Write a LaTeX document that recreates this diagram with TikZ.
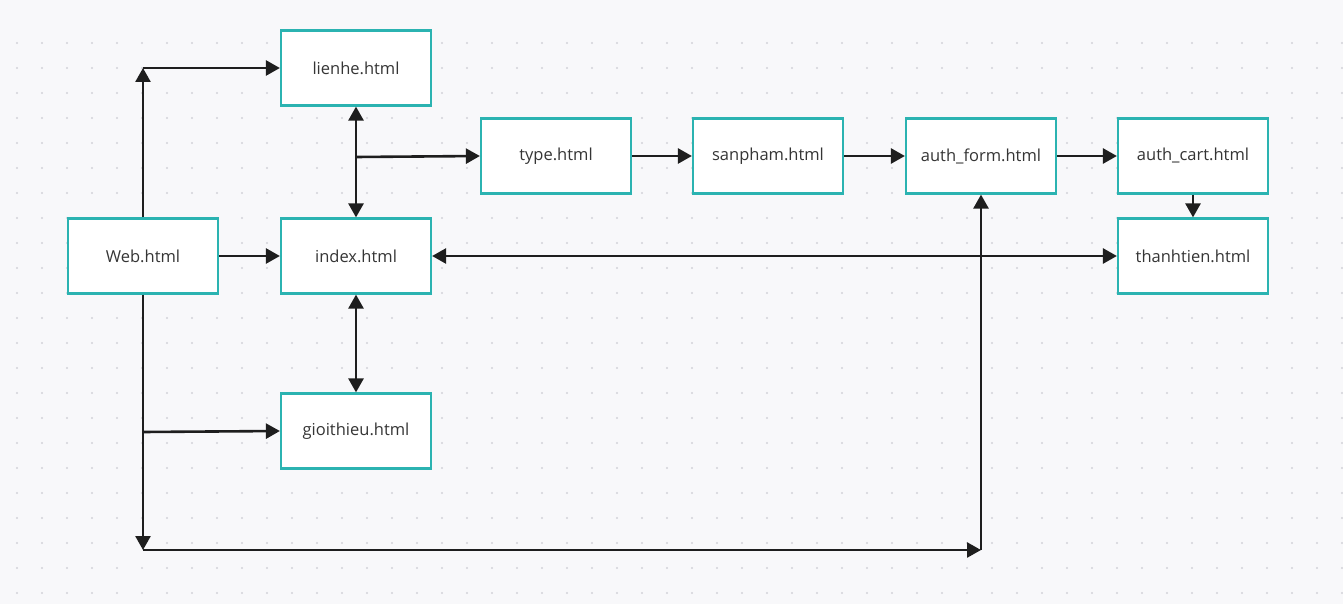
\documentclass[tikz,border=0pt]{standalone}
\usepackage{fontspec}
\setmainfont{Open Sans}
\usetikzlibrary{arrows.meta}
\definecolor{bg}{HTML}{F8F8FA}
\definecolor{dotc}{HTML}{D2D2D9}
\definecolor{teal}{HTML}{2BB3B1}
\definecolor{ink}{HTML}{1E1E1E}
\begin{document}
\begin{tikzpicture}[x=1pt,y=-1pt,
  page/.style={draw=teal,line width=2.2pt,fill=white,minimum width=150pt,minimum height=75pt,
    inner sep=0pt,font=\fontsize{16.5}{18}\selectfont,text=ink!90},
  tip/.style={Triangle[length=14pt,width=15pt]},
  link/.style={draw=ink,line width=2.6pt,-{Triangle[length=14pt,width=15pt]}},
  both/.style={draw=ink,line width=2.6pt,{Triangle[length=14pt,width=15pt]}-{Triangle[length=14pt,width=15pt]}}]
% canvas and dot grid
\fill[bg] (0,0) rectangle (1343,604);
\useasboundingbox (0,0) rectangle (1343,604);
\foreach \i in {0,...,53}{
  \foreach \j in {0,...,22}{
    \fill[dotc] (17+25*\i,43+25*\j) circle (1.2pt);
  }
}
% pages
\node[page] (web)   at (143,256) {Web.html};
\node[page] (lien)  at (356,68)  {lienhe.html};
\node[page] (index) at (356,256) {index.html};
\node[page] (gioi)  at (356,431) {gioithieu.html};
\node[page] (type)  at (556,156) {type.html};
\node[page] (sp)    at (768,156) {sanpham.html};
\node[page] (form)  at (981,156) {auth\_form.html};
\node[page] (cart)  at (1193,156) {auth\_cart.html};
\node[page] (tien)  at (1193,256) {thanhtien.html};
% junction points
\coordinate (up)    at (143,68);
\coordinate (down)  at (143,550);
\coordinate (mid)   at (143,432);
\coordinate (corner) at (981,550);
\coordinate (tap)   at (356,157);
% connectors
\draw[link] (web.north) -- (up);
\draw[link] (up) -- (lien.west);
\draw[link] (web.east) -- (index.west);
\draw[link] (web.south) -- (down);
\draw[link] (mid) -- (gioi.west);
\draw[link] (down) -- (corner);
\draw[link] (corner) -- (form.south);
\draw[both] (lien.south) -- (index.north);
\draw[link] (tap) -- (type.west);
\draw[both] (index.south) -- (gioi.north);
\draw[link] (type.east) -- (sp.west);
\draw[link] (sp.east) -- (form.west);
\draw[link] (form.east) -- (cart.west);
\draw[link] (cart.south) -- (tien.north);
\draw[both] (index.east) -- (tien.west);
\end{tikzpicture}
\end{document}
